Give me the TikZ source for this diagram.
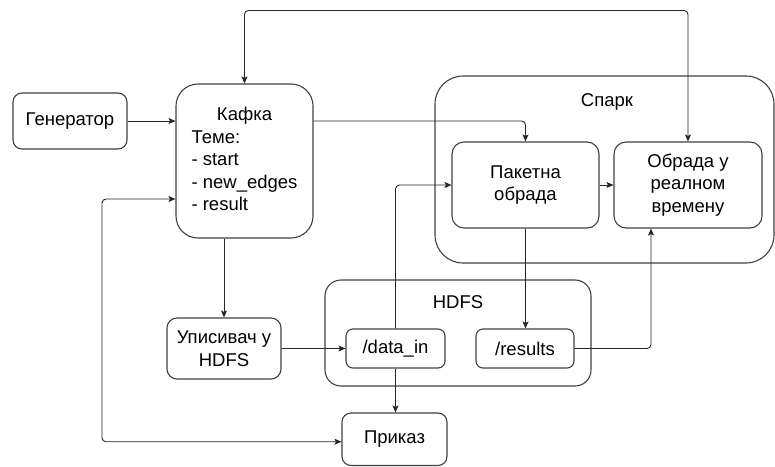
\documentclass[tikz,border=0pt]{standalone}
\usepackage{fontspec}
\setmainfont{Liberation Sans}
\usetikzlibrary{arrows.meta,calc}
\begin{document}
\begin{tikzpicture}[x=1pt,y=-1pt,
  font=\fontsize{18.5}{22.5}\selectfont,
  box/.style={draw=black!75,line width=1.1pt,rounded corners=#1,inner sep=0pt,align=center},
  box/.default=8pt,
  conn/.style={draw=black!85,line width=0.9pt,rounded corners=4pt,-{Stealth[length=7pt,width=6pt,inset=1.5pt]}},
  biconn/.style={conn,{Stealth[length=7pt,width=6pt,inset=1.5pt]}-{Stealth[length=7pt,width=6pt,inset=1.5pt]}},
  lbl/.style={inner sep=0pt}
]
\useasboundingbox (0,0) rectangle (775,466);
% containers
\node[box=28pt,minimum width=339pt,minimum height=187pt] (spark) at (604.5,169.5) {};
\node[lbl] (sparkl) at (607,102) {Спарк};
\node[box=16pt,minimum width=266pt,minimum height=106pt] (hdfs) at (458,333) {};
\node[lbl] (hdfsl) at (458,302) {HDFS};
% boxes
\node[box=9pt,minimum width=114pt,minimum height=56pt] (gen) at (70,121) {Генератор};
\node[box=22pt,minimum width=137pt,minimum height=154pt] (kafka) at (244.5,161)
  {\begin{tabular}{@{}l@{}}\multicolumn{1}{@{}c@{}}{Кафка}\\Теме:\\- start\\- new\_edges\\- result\end{tabular}};
\node[box=12pt,minimum width=147pt,minimum height=86pt] (batch) at (525.5,185) {Пакетна\\обрада};
\node[box=12pt,minimum width=148pt,minimum height=86pt] (rt) at (688,185) {Обрада у\\реалном\\времену};
\node[box=10pt,minimum width=114pt,minimum height=61pt] (writer) at (224,348.5) {Уписивач у\\HDFS};
\node[box=7pt,minimum width=99pt,minimum height=39pt] (datain) at (395.5,348.5) {/data\_in};
\node[box=7pt,minimum width=98pt,minimum height=39pt] (results) at (525,348.5) {/results};
\node[box=9pt,minimum width=105pt,minimum height=52.5pt] (prikaz) at (394.5,439.25) {Приказ};
% helper coordinates
\coordinate (ktop) at ($(kafka.north)+(0,-73)$);
\coordinate (kleft) at ($(kafka.west)+(0,38)$);
\coordinate (pleft) at ($(prikaz.west)+(0,2.5)$);
\coordinate (rtb) at ($(rt.south)+(-37,0)$);
% connectors
\draw[conn] (gen.east) -- (gen.east -| kafka.west);
\draw[biconn] (kafka.north) -- (ktop) -| (rt.north);
\draw[conn] (kafka.east |- gen.east) -| (batch.north);
\draw[conn] (batch.east) -- (rt.west);
\draw[conn] (kafka.south -| writer.north) -- (writer.north);
\draw[conn] (writer.east) -- (datain.west);
\draw[conn] (datain.north) |- (batch.west);
\draw[conn] (datain.south) -- (datain.south |- prikaz.north);
\draw[conn] (batch.south) -- (batch.south |- results.north);
\draw[conn] (results.east) -| (rtb);
\draw[biconn] (pleft) -| (102,300) |- (kleft);
\end{tikzpicture}
\end{document}
